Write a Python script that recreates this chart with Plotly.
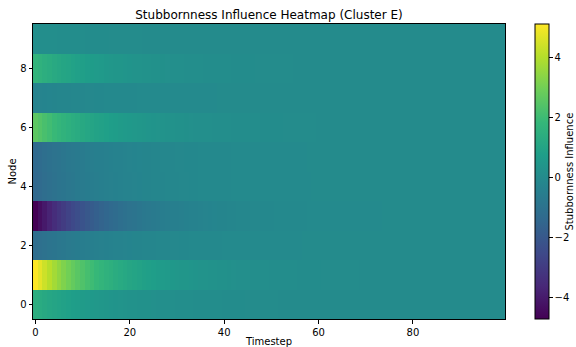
import plotly.graph_objects as go

# Stubbornness influence per node (rows) over timesteps 0..99 (columns)
timesteps = list(range(100))
nodes = list(range(10))

node0 = [
    1.40, 1.30, 1.20, 1.11, 1.02, 0.95, 0.88, 0.81, 0.75, 0.69,
    0.64, 0.59, 0.55, 0.51, 0.47, 0.43, 0.40, 0.37, 0.34, 0.32,
    0.29, 0.27, 0.25, 0.23, 0.22, 0.20, 0.18, 0.17, 0.16, 0.15,
    0.14, 0.12, 0.12, 0.11, 0.10, 0.09, 0.08, 0.08, 0.07, 0.07,
    0.06, 0.06, 0.05, 0.05, 0.05, 0.04, 0.04, 0.04, 0.03, 0.03,
    0.03, 0.03, 0.02, 0.02, 0.02, 0.02, 0.02, 0.02, 0.02, 0.01,
    0.01, 0.01, 0.01, 0.01, 0.01, 0.01, 0.01, 0.01, 0.01, 0.01,
    0.01, 0.01, 0.01, 0, 0, 0, 0, 0, 0, 0,
    0, 0, 0, 0, 0, 0, 0, 0, 0, 0,
    0, 0, 0, 0, 0, 0, 0, 0, 0, 0,
]
node1 = [
    5.10, 4.72, 4.36, 4.04, 3.73, 3.45, 3.19, 2.96, 2.73, 2.53,
    2.34, 2.16, 2.00, 1.85, 1.71, 1.58, 1.47, 1.36, 1.25, 1.16,
    1.07, 0.99, 0.92, 0.85, 0.79, 0.73, 0.67, 0.62, 0.57, 0.53,
    0.49, 0.45, 0.42, 0.39, 0.36, 0.33, 0.31, 0.28, 0.26, 0.24,
    0.23, 0.21, 0.19, 0.18, 0.17, 0.15, 0.14, 0.13, 0.12, 0.11,
    0.10, 0.10, 0.09, 0.08, 0.08, 0.07, 0.06, 0.06, 0.06, 0.05,
    0.05, 0.04, 0.04, 0.04, 0.03, 0.03, 0.03, 0.03, 0.03, 0.02,
    0.02, 0.02, 0.02, 0.02, 0.02, 0.01, 0.01, 0.01, 0.01, 0.01,
    0.01, 0.01, 0.01, 0, 0, 0, 0, 0, 0, 0,
    0, 0, 0, 0, 0, 0, 0, 0, 0, 0,
]
node2 = [
    -1.20, -1.11, -1.03, -0.95, -0.88, -0.81, -0.75, -0.70, -0.64, -0.59,
    -0.55, -0.51, -0.47, -0.44, -0.40, -0.37, -0.34, -0.32, -0.29, -0.27,
    -0.25, -0.23, -0.22, -0.20, -0.18, -0.17, -0.16, -0.15, -0.14, -0.13,
    -0.12, -0.11, -0.10, -0.09, -0.08, -0.08, -0.07, -0.07, -0.06, -0.06,
    -0.05, -0.05, -0.05, -0.04, -0.04, -0.04, -0.03, -0.03, -0.03, -0.03,
    -0.02, -0.02, -0.02, -0.02, -0.02, -0.02, -0.02, -0.01, -0.01, -0.01,
    -0.01, -0.01, -0.01, -0.01, -0.01, -0.01, -0.01, -0.01, -0.01, -0.01,
    -0.01, 0, 0, 0, 0, 0, 0, 0, 0, 0,
    0, 0, 0, 0, 0, 0, 0, 0, 0, 0,
    0, 0, 0, 0, 0, 0, 0, 0, 0, 0,
]
node3 = [
    -4.70, -4.35, -4.02, -3.72, -3.44, -3.18, -2.94, -2.72, -2.52, -2.33,
    -2.16, -1.99, -1.84, -1.71, -1.58, -1.46, -1.35, -1.25, -1.16, -1.07,
    -0.99, -0.91, -0.85, -0.78, -0.72, -0.67, -0.62, -0.57, -0.53, -0.49,
    -0.45, -0.42, -0.39, -0.36, -0.33, -0.31, -0.28, -0.26, -0.24, -0.22,
    -0.21, -0.19, -0.18, -0.16, -0.15, -0.14, -0.13, -0.12, -0.11, -0.10,
    -0.10, -0.09, -0.08, -0.08, -0.07, -0.06, -0.06, -0.06, -0.05, -0.05,
    -0.04, -0.04, -0.04, -0.03, -0.03, -0.03, -0.03, -0.03, -0.02, -0.02,
    -0.02, -0.02, -0.02, -0.02, -0.01, -0.01, -0.01, -0.01, -0.01, -0.01,
    -0.01, -0.01, -0.01, 0, 0, 0, 0, 0, 0, 0,
    0, 0, 0, 0, 0, 0, 0, 0, 0, 0,
]
node4 = [
    -1.40, -1.30, -1.20, -1.11, -1.02, -0.95, -0.88, -0.81, -0.75, -0.69,
    -0.64, -0.59, -0.55, -0.51, -0.47, -0.43, -0.40, -0.37, -0.34, -0.32,
    -0.29, -0.27, -0.25, -0.23, -0.22, -0.20, -0.18, -0.17, -0.16, -0.15,
    -0.14, -0.12, -0.12, -0.11, -0.10, -0.09, -0.08, -0.08, -0.07, -0.07,
    -0.06, -0.06, -0.05, -0.05, -0.05, -0.04, -0.04, -0.04, -0.03, -0.03,
    -0.03, -0.03, -0.02, -0.02, -0.02, -0.02, -0.02, -0.02, -0.02, -0.01,
    -0.01, -0.01, -0.01, -0.01, -0.01, -0.01, -0.01, -0.01, -0.01, -0.01,
    -0.01, -0.01, -0.01, 0, 0, 0, 0, 0, 0, 0,
    0, 0, 0, 0, 0, 0, 0, 0, 0, 0,
    0, 0, 0, 0, 0, 0, 0, 0, 0, 0,
]
node5 = [
    -1.35, -1.25, -1.16, -1.07, -0.99, -0.91, -0.85, -0.78, -0.72, -0.67,
    -0.62, -0.57, -0.53, -0.49, -0.45, -0.42, -0.39, -0.36, -0.33, -0.31,
    -0.28, -0.26, -0.24, -0.22, -0.21, -0.19, -0.18, -0.16, -0.15, -0.14,
    -0.13, -0.12, -0.11, -0.10, -0.10, -0.09, -0.08, -0.08, -0.07, -0.06,
    -0.06, -0.06, -0.05, -0.05, -0.04, -0.04, -0.04, -0.03, -0.03, -0.03,
    -0.03, -0.03, -0.02, -0.02, -0.02, -0.02, -0.02, -0.02, -0.01, -0.01,
    -0.01, -0.01, -0.01, -0.01, -0.01, -0.01, -0.01, -0.01, -0.01, -0.01,
    -0.01, -0.01, 0, 0, 0, 0, 0, 0, 0, 0,
    0, 0, 0, 0, 0, 0, 0, 0, 0, 0,
    0, 0, 0, 0, 0, 0, 0, 0, 0, 0,
]
node6 = [
    2.60, 2.41, 2.22, 2.06, 1.90, 1.76, 1.63, 1.51, 1.39, 1.29,
    1.19, 1.10, 1.02, 0.94, 0.87, 0.81, 0.75, 0.69, 0.64, 0.59,
    0.55, 0.51, 0.47, 0.43, 0.40, 0.37, 0.34, 0.32, 0.29, 0.27,
    0.25, 0.23, 0.21, 0.20, 0.18, 0.17, 0.16, 0.15, 0.13, 0.12,
    0.11, 0.11, 0.10, 0.09, 0.08, 0.08, 0.07, 0.07, 0.06, 0.06,
    0.05, 0.05, 0.05, 0.04, 0.04, 0.04, 0.03, 0.03, 0.03, 0.03,
    0.02, 0.02, 0.02, 0.02, 0.02, 0.02, 0.02, 0.01, 0.01, 0.01,
    0.01, 0.01, 0.01, 0.01, 0.01, 0.01, 0.01, 0.01, 0.01, 0.01,
    0.01, 0, 0, 0, 0, 0, 0, 0, 0, 0,
    0, 0, 0, 0, 0, 0, 0, 0, 0, 0,
]
node7 = [
    -0.30, -0.28, -0.26, -0.24, -0.22, -0.20, -0.19, -0.17, -0.16, -0.15,
    -0.14, -0.13, -0.12, -0.11, -0.10, -0.09, -0.09, -0.08, -0.07, -0.07,
    -0.06, -0.06, -0.05, -0.05, -0.05, -0.04, -0.04, -0.04, -0.03, -0.03,
    -0.03, -0.03, -0.02, -0.02, -0.02, -0.02, -0.02, -0.02, -0.02, -0.01,
    -0.01, -0.01, -0.01, -0.01, -0.01, -0.01, -0.01, -0.01, -0.01, -0.01,
    -0.01, -0.01, -0.01, 0, 0, 0, 0, 0, 0, 0,
    0, 0, 0, 0, 0, 0, 0, 0, 0, 0,
    0, 0, 0, 0, 0, 0, 0, 0, 0, 0,
    0, 0, 0, 0, 0, 0, 0, 0, 0, 0,
    0, 0, 0, 0, 0, 0, 0, 0, 0, 0,
]
node8 = [
    1.70, 1.57, 1.45, 1.35, 1.24, 1.15, 1.06, 0.99, 0.91, 0.84,
    0.78, 0.72, 0.67, 0.62, 0.57, 0.53, 0.49, 0.45, 0.42, 0.39,
    0.36, 0.33, 0.31, 0.28, 0.26, 0.24, 0.22, 0.21, 0.19, 0.18,
    0.16, 0.15, 0.14, 0.13, 0.12, 0.11, 0.10, 0.09, 0.09, 0.08,
    0.08, 0.07, 0.06, 0.06, 0.06, 0.05, 0.05, 0.04, 0.04, 0.04,
    0.03, 0.03, 0.03, 0.03, 0.03, 0.02, 0.02, 0.02, 0.02, 0.02,
    0.02, 0.01, 0.01, 0.01, 0.01, 0.01, 0.01, 0.01, 0.01, 0.01,
    0.01, 0.01, 0.01, 0.01, 0.01, 0, 0, 0, 0, 0,
    0, 0, 0, 0, 0, 0, 0, 0, 0, 0,
    0, 0, 0, 0, 0, 0, 0, 0, 0, 0,
]
node9 = [
    0.15, 0.14, 0.13, 0.12, 0.11, 0.10, 0.09, 0.09, 0.08, 0.07,
    0.07, 0.06, 0.06, 0.05, 0.05, 0.05, 0.04, 0.04, 0.04, 0.03,
    0.03, 0.03, 0.03, 0.02, 0.02, 0.02, 0.02, 0.02, 0.02, 0.02,
    0.01, 0.01, 0.01, 0.01, 0.01, 0.01, 0.01, 0.01, 0.01, 0.01,
    0.01, 0.01, 0.01, 0.01, 0, 0, 0, 0, 0, 0,
    0, 0, 0, 0, 0, 0, 0, 0, 0, 0,
    0, 0, 0, 0, 0, 0, 0, 0, 0, 0,
    0, 0, 0, 0, 0, 0, 0, 0, 0, 0,
    0, 0, 0, 0, 0, 0, 0, 0, 0, 0,
    0, 0, 0, 0, 0, 0, 0, 0, 0, 0,
]

influence = [node0, node1, node2, node3, node4, node5, node6, node7, node8, node9]
for row in influence:
    assert len(row) == len(timesteps), len(row)

x_ticks = [0, 20, 40, 60, 80]
y_ticks = [0, 2, 4, 6, 8]
cbar_ticks = [-4, -2, 0, 2, 4]

FONT = "DejaVu Sans"

# plot area in pixels
LEFT, RIGHT, TOP, BOTTOM = 33, 505, 24, 319
W, H = 576, 347
PLOT_W = RIGHT - LEFT

fig = go.Figure(
    go.Heatmap(
        z=influence,
        x=timesteps,
        y=nodes,
        colorscale="Viridis",
        zsmooth=False,
        colorbar=dict(
            x=(535 - LEFT) / PLOT_W,
            xanchor="left",
            xpad=0,
            ypad=0,
            y=0.5,
            yanchor="middle",
            len=1.0,
            lenmode="fraction",
            thickness=14,
            outlinewidth=1,
            outlinecolor="black",
            tickvals=cbar_ticks,
            ticktext=[str(v).replace("-", "\u2212") for v in cbar_ticks],
            ticks="outside",
            ticklen=3.5,
            tickwidth=0.8,
            tickcolor="black",
            tickfont=dict(family=FONT, size=10, color="black"),
        ),
    )
)

axis_common = dict(
    showline=True,
    mirror=True,
    linecolor="black",
    linewidth=1,
    ticks="outside",
    ticklen=3.5,
    tickwidth=0.8,
    tickcolor="black",
    showgrid=False,
    zeroline=False,
    automargin=False,
    tickfont=dict(family=FONT, size=10, color="black"),
)

fig.update_layout(
    width=W,
    height=H,
    margin=dict(l=LEFT, r=W - RIGHT, t=TOP, b=H - BOTTOM, autoexpand=False),
    paper_bgcolor="white",
    plot_bgcolor="white",
    font=dict(family=FONT, size=10, color="black"),
    title=dict(
        text="Stubbornness Influence Heatmap (Cluster E)",
        x=(LEFT + RIGHT) / 2 / W,
        xanchor="center",
        y=1 - 15 / H,
        yanchor="middle",
        font=dict(family=FONT, size=12, color="black"),
    ),
    xaxis=dict(
        range=[-0.5, 99.5],
        tickvals=x_ticks,
        title=dict(text="Timestep", standoff=5, font=dict(family=FONT, size=10)),
        **axis_common,
    ),
    yaxis=dict(
        range=[-0.5, 9.5],
        tickvals=y_ticks,
        title=dict(text="Node", standoff=1, font=dict(family=FONT, size=10)),
        **axis_common,
    ),
    annotations=[
        dict(
            text="Stubbornness Influence",
            xref="paper",
            yref="paper",
            x=(569 - LEFT) / PLOT_W,
            y=0.5,
            xanchor="center",
            yanchor="middle",
            textangle=-90,
            showarrow=False,
            font=dict(family=FONT, size=10, color="black"),
        )
    ],
)

fig.write_html("out.html")
